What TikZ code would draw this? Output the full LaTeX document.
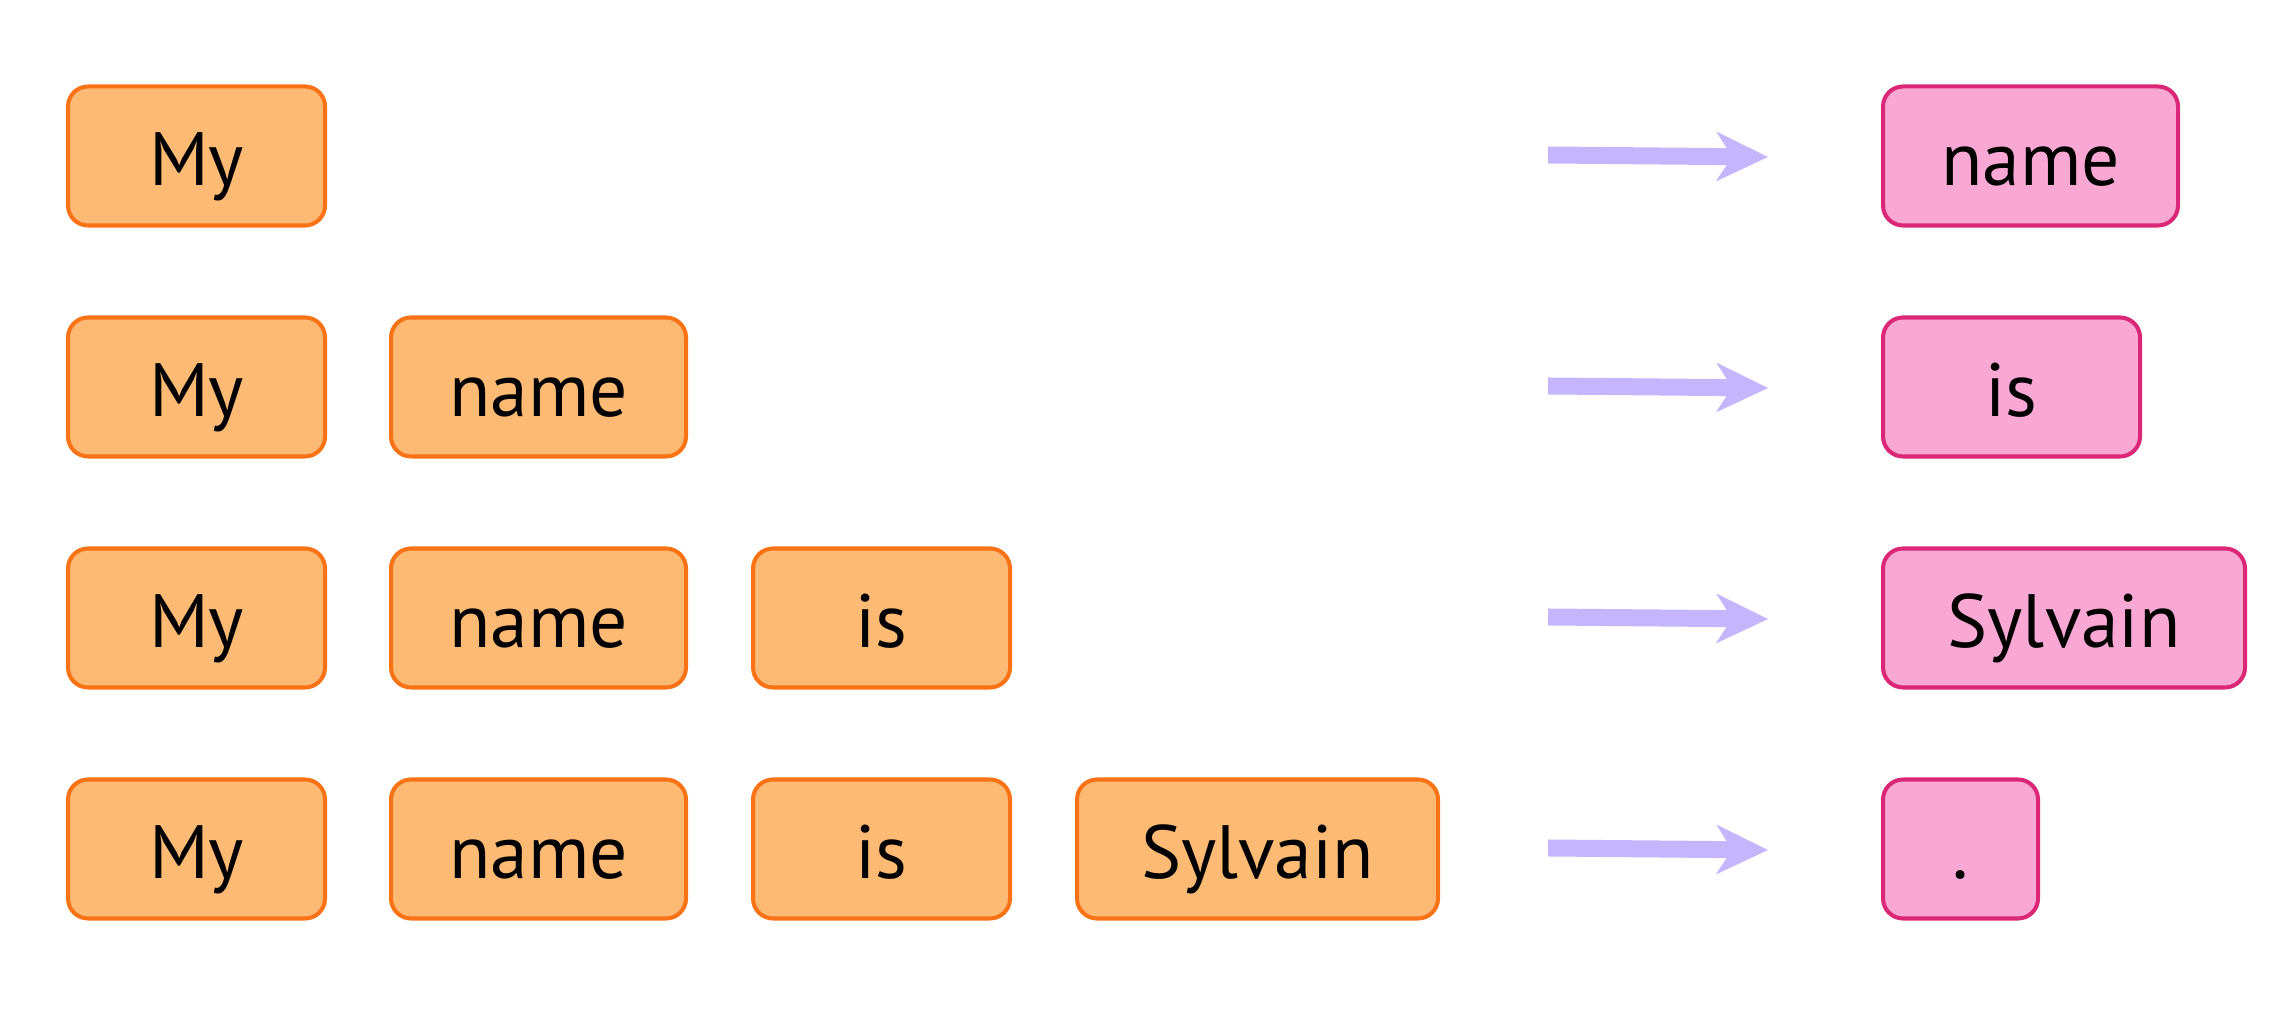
\documentclass[tikz,border=0pt]{standalone}
\usepackage{fontspec}
\setmainfont{PT Sans}
\usetikzlibrary{arrows.meta}

\definecolor{tokfill}{HTML}{FDBA74}
\definecolor{tokdraw}{HTML}{F97316}
\definecolor{predfill}{HTML}{F9A8D4}
\definecolor{preddraw}{HTML}{DB2777}
\definecolor{arrowcol}{HTML}{C4B5FD}

\tikzset{
    token/.style={draw=tokdraw, fill=tokfill, line width=1.15pt,
                  rounded corners=0.2cm, anchor=west,
                  minimum height=1.39cm, inner xsep=0pt,
                  text height=0.75cm, text depth=0.15cm,
                  font=\fontsize{21.5}{25}\selectfont},
    pred/.style={token, draw=preddraw, fill=predfill},
    shift arrow/.style={draw=arrowcol, line width=0.17cm,
                        -{Stealth[length=0.52cm, width=0.5cm, inset=0.16cm, line width=0pt]}}
}

\begin{document}
\begin{tikzpicture}
    \useasboundingbox (0,0) rectangle (22.8,10.11);
    % inputs
    \foreach \r in {1,...,4} {
        \pgfmathsetmacro{\y}{8.55-2.31*(\r-1)}
        \foreach [count=\c] \w/\x/\bw in {My/0.66/2.57, name/3.89/2.95, is/7.51/2.57, Sylvain/10.75/3.61} {
            \ifnum\c>\r\else
                \node[token, minimum width=\bw cm] (in-\r-\c) at (\x, \y) {\w};
            \fi
        }
    }
    % next token
    \foreach \r/\w/\bw in {1/name/2.95, 2/is/2.57, 3/Sylvain/3.62, 4/./1.55} {
        \pgfmathsetmacro{\y}{8.55-2.31*(\r-1)}
        \node[pred, minimum width=\bw cm] (out-\r) at (18.81, \y) {\w};
        \coordinate (a-\r-s) at (15.48, \y+0.01);
        \coordinate (a-\r-e) at (17.68, \y-0.01);
        \draw[shift arrow] (a-\r-s) -- (a-\r-e);
    }
\end{tikzpicture}
\end{document}
